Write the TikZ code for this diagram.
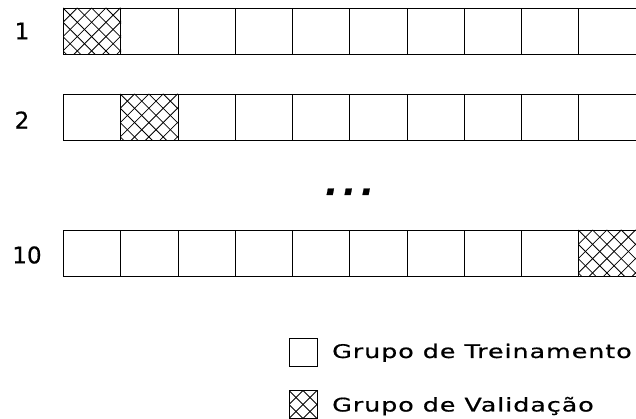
\documentclass[tikz,border=0pt]{standalone}
\usepackage{fontspec}
\setmainfont{DejaVu Sans}
\newfontfamily\legfont[FakeStretch=1.35,LetterSpace=5,FakeBold=0.6]{DejaVu Sans}
\newfontfamily\numfont[FakeBold=0.6]{DejaVu Sans}
\newcommand{\hatchcell}[2]{%
  \begin{scope}
    \clip (#1.south west) rectangle (#1.north east);
    \foreach \k in {-8,...,12}{
      \draw[hatchline] ([xshift=\k*#2]#1.north west) -- ++(90,-90);
      \draw[hatchline] ([xshift=\k*#2]#1.north west) -- ++(-90,-90);
    }
  \end{scope}}
\begin{document}
\begin{tikzpicture}[x=1pt,y=1pt,
  cell/.style={draw=black,line width=0.8pt,minimum width=57.25pt,minimum height=46pt,inner sep=0pt,anchor=north west},
  legbox/.style={draw=black,line width=0.8pt,minimum width=28pt,minimum height=28pt,inner sep=0pt,anchor=north west},
  hatchline/.style={draw=black,line width=0.8pt},
  rowlabel/.style={font=\numfont\fontsize{23}{26}\selectfont,inner sep=0pt},
  legtext/.style={font=\legfont\fontsize{18.8}{21}\selectfont,inner sep=0pt,anchor=base west}
]
\useasboundingbox (0,0) rectangle (636,419);
% row 1
\foreach \i in {0,...,9}{
  \node[cell] (ra\i) at (63+\i*57.25,411) {};
}
\hatchcell{ra0}{14.3125pt}
% row 2
\foreach \i in {0,...,9}{
  \node[cell] (rb\i) at (63+\i*57.25,325) {};
}
\hatchcell{rb1}{14.3125pt}
% row 10
\foreach \i in {0,...,9}{
  \node[cell] (rc\i) at (63+\i*57.25,189) {};
}
\hatchcell{rc9}{14.3125pt}
% labels
\node[rowlabel] (l1) at (22,388) {1};
\node[rowlabel] (l2) at (22,299) {2};
\node[rowlabel] (l10) at (27,164) {10};
% dots
\node[inner sep=0pt,anchor=base,font=\numfont\bfseries\itshape\fontsize{34}{36}\selectfont] (dots) at (349.5,224) {.\hspace{5pt}.\hspace{5pt}.};
% legend
\node[legbox] (lb1) at (289,81) {};
\node[legtext] (lt1) at (332,61) {Grupo de Treinamento};
\node[legbox] (lb2) at (289,28.5) {};
\hatchcell{lb2}{14pt}
\node[legtext] (lt2) at (332,7.5) {Grupo de Validação};
\end{tikzpicture}
\end{document}
